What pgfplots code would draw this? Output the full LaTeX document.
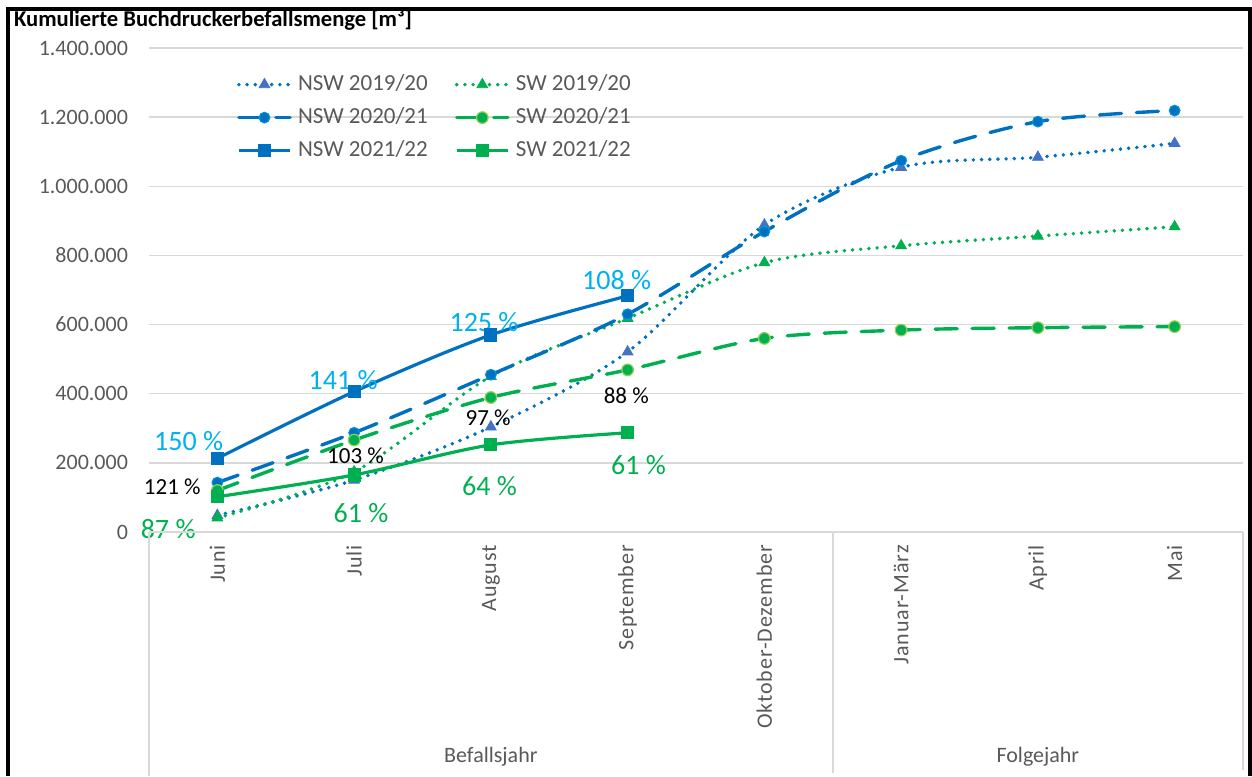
\documentclass[border=0pt]{standalone}
\usepackage{fontspec}
\setmainfont{Carlito}
\newfontfamily\catfont[LetterSpace=4]{Carlito}
\usepackage{pgfplots}
\pgfplotsset{compat=1.18}

\definecolor{nswblue}{HTML}{0070C0}
\definecolor{trblue}{HTML}{4472C4}
\definecolor{swgreen}{HTML}{00B050}
\definecolor{limegreen}{HTML}{92D050}
\definecolor{cyanlab}{HTML}{00B0F0}
\definecolor{gridgrey}{HTML}{D9D9D9}
\definecolor{labgrey}{HTML}{595959}

\tikzset{
  dotline/.style={line width=1.95pt, line cap=round, dash pattern=on 0pt off 4.1pt},
  dashline/.style={line width=1.7pt, line cap=round, dash pattern=on 11pt off 7.5pt},
  fullline/.style={line width=1.6pt},
}

\begin{document}
\begin{tikzpicture}
\useasboundingbox (0,0) rectangle (626pt,388pt);
\begin{axis}[
    at={(74.5pt,122pt)}, anchor=south west,
    scale only axis,
    width=547pt, height=242pt,
    xmin=-0.5, xmax=7.5,
    ymin=0, ymax=1400000,
    clip=false,
    axis line style={draw=none},
    tick style={draw=none},
    scaled y ticks=false,
    ytick={0,200000,400000,600000,800000,1000000,1200000,1400000},
    yticklabels={0,200.000,400.000,600.000,800.000,1.000.000,1.200.000,1.400.000},
    yticklabel style={font=\fontsize{11}{13}\selectfont, text=labgrey, xshift=-7pt},
    ymajorgrids,
    grid style={gridgrey, line width=0.75pt},
    xtick={0,...,7},
    xticklabels={Juni,Juli,August,September,Oktober-Dezember,Januar-März,April,Mai},
    xticklabel style={rotate=90, anchor=east, font=\catfont\fontsize{11}{13}\selectfont, text=labgrey},
    xticklabel shift=3pt,
    legend columns=2,
    legend cell align=left,
    legend style={
        at={(0.08,0.951)}, anchor=north west,
        draw=none, fill=none, inner sep=0pt,
        font=\fontsize{11.5}{13}\selectfont, text=labgrey,
        nodes={inner sep=1pt, text height=8pt, text depth=2.5pt},
        row sep=4pt,
        /tikz/every odd column/.append style={column sep=2pt},
        /tikz/every even column/.append style={column sep=12.5pt},
    },
    legend image code/.code={
        \draw[mark repeat=2, mark phase=2, #1]
            plot coordinates {(0cm,0cm) (0.45cm,0cm) (0.9cm,0cm)};
    },
]

% NSW 2019/20
\addplot[nswblue, dotline, smooth, tension=0.5, mark=triangle*, mark size=3.1pt,
         mark options={solid, fill=trblue, draw=trblue, line width=0.4pt}]
  coordinates {(0,48000) (1,150000) (2,304000) (3,521000) (4,888000) (5,1055000) (6,1084000) (7,1124000)};
\addlegendentry{NSW 2019/20}

% SW 2019/20
\addplot[swgreen, dotline, smooth, tension=0.5, mark=triangle*, mark size=3.1pt,
         mark options={solid, fill=swgreen, draw=swgreen, line width=0.4pt}]
  coordinates {(0,41000) (1,174000) (2,450000) (3,618000) (4,779000) (5,828000) (6,856000) (7,883000)};
\addlegendentry{SW 2019/20}

% NSW 2020/21
\addplot[nswblue, dashline, smooth, tension=0.5, mark=*, mark size=2.7pt,
         mark options={solid, fill=nswblue, draw=cyanlab!60!nswblue, line width=0.5pt}]
  coordinates {(0,143000) (1,287000) (2,455000) (3,630000) (4,869000) (5,1074000) (6,1187000) (7,1219000)};
\addlegendentry{NSW 2020/21}

% SW 2020/21
\addplot[swgreen, dashline, smooth, tension=0.5, mark=*, mark size=2.9pt,
         mark options={solid, fill=swgreen, draw=limegreen, line width=0.6pt}]
  coordinates {(0,120000) (1,266000) (2,389000) (3,469000) (4,560000) (5,584000) (6,591000) (7,594000)};
\addlegendentry{SW 2020/21}

% NSW 2021/22
\addplot[nswblue, fullline, smooth, tension=0.5, mark=square*, mark size=2.5pt,
         mark options={solid, fill=nswblue}]
  coordinates {(0,213000) (1,406000) (2,570000) (3,683000)};
\addlegendentry{NSW 2021/22}

% SW 2021/22
\addplot[swgreen, fullline, smooth, tension=0.5, mark=square*, mark size=2.5pt,
         mark options={solid, fill=swgreen}]
  coordinates {(0,102000) (1,165000) (2,252000) (3,287000)};
\addlegendentry{SW 2021/22}

% percentage labels
\begin{scope}[every node/.style={font=\fontsize{14}{16}\selectfont, text=cyanlab}]
  \node at (axis cs:-0.21,263000) {150 \%};
  \node at (axis cs:0.92,440000) {141 \%};
  \node at (axis cs:1.95,607000) {125 \%};
  \node at (axis cs:2.92,729000) {108 \%};
\end{scope}
\begin{scope}[every node/.style={font=\fontsize{11.5}{13}\selectfont, text=black}]
  \node at (axis cs:-0.33,130000) {121 \%};
  \node at (axis cs:1.01,220000) {103 \%};
  \node at (axis cs:1.98,330000) {97 \%};
  \node at (axis cs:2.99,393000) {88 \%};
\end{scope}
\begin{scope}[every node/.style={font=\fontsize{14}{16}\selectfont, text=swgreen}]
  \node at (axis cs:-0.36,9000) {87 \%};
  \node at (axis cs:1.05,55000) {61 \%};
  \node at (axis cs:1.99,133000) {64 \%};
  \node at (axis cs:3.08,194000) {61 \%};
\end{scope}

% multi-level category axis
\draw[gridgrey, line width=0.75pt] (axis cs:-0.5,0) -- (axis cs:7.5,0);
\draw[gridgrey, line width=0.75pt] (axis cs:-0.5,0) -- ++(0pt,-122pt);
\draw[gridgrey, line width=0.75pt] (axis cs:4.5,0) -- ++(0pt,-120.5pt);
\draw[gridgrey, line width=0.75pt] (axis cs:7.5,0) -- ++(0pt,-119pt);
\node[font=\fontsize{11}{13}\selectfont, text=labgrey] at (axis cs:2,0) [yshift=-112.5pt] {Befallsjahr};
\node[font=\fontsize{11}{13}\selectfont, text=labgrey] at (axis cs:6,0) [yshift=-112.5pt] {Folgejahr};
\end{axis}

\node[anchor=west, font=\bfseries\fontsize{11.3}{13}\selectfont] at (3.5pt,378pt)
  {Kumulierte Buchdruckerbefallsmenge [m³]};
\draw[line width=2pt] (4pt,0pt) -- (4pt,383.5pt) -- (625pt,383.5pt) -- (625pt,0pt);
\end{tikzpicture}
\end{document}
